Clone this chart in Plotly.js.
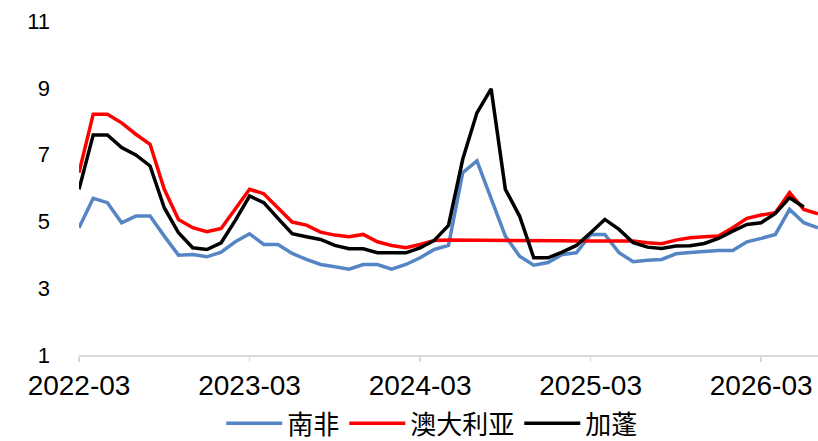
<!DOCTYPE html>
<html>
<head>
<meta charset="utf-8">
<script src="https://cdn.plot.ly/plotly-3.0.1.min.js"></script>
<style>html,body{margin:0;padding:0;background:#fff;}#chart{width:818px;height:441px;}</style>
</head>
<body>
<div id="chart"></div>
<script>
const months = [
  "2022-03","2022-04","2022-05","2022-06","2022-07","2022-08","2022-09","2022-10","2022-11","2022-12",
  "2023-01","2023-02","2023-03","2023-04","2023-05","2023-06","2023-07","2023-08","2023-09","2023-10","2023-11","2023-12",
  "2024-01","2024-02","2024-03","2024-04","2024-05","2024-06","2024-07","2024-08","2024-09","2024-10","2024-11","2024-12",
  "2025-01","2025-02","2025-03","2025-04","2025-05","2025-06","2025-07","2025-08","2025-09","2025-10","2025-11","2025-12",
  "2026-01","2026-02","2026-03","2026-04","2026-05","2026-06","2026-07"
];
const southAfrica = [
  4.81,5.69,5.56,4.96,5.16,5.16,4.56,3.99,4.01,3.94,
  4.08,4.39,4.63,4.31,4.31,4.04,3.86,3.71,3.64,3.57,3.71,3.71,
  3.57,3.71,3.91,4.16,4.28,6.46,6.81,5.66,4.56,3.96,3.69,3.77,
  4.01,4.06,4.61,4.61,4.06,3.79,3.84,3.86,4.03,4.07,4.11,4.13,
  4.13,4.39,4.49,4.61,5.36,4.96,4.81
];
const australia = [
  6.46,8.21,8.21,7.95,7.61,7.31,5.96,5.06,4.81,4.69,
  4.79,5.39,5.96,5.83,5.41,4.98,4.89,4.68,4.59,4.54,4.61,4.39,
  4.28,4.21,4.31,4.43,4.44,4.44,4.44,4.44,4.43,4.43,4.42,4.42,
  4.42,4.41,4.41,4.41,4.41,4.41,4.36,4.33,4.44,4.51,4.54,4.56,
  4.81,5.09,5.19,5.26,5.86,5.36,5.23
];
const gabon = [
  5.96,7.59,7.59,7.21,6.99,6.66,5.41,4.66,4.21,4.16,
  4.36,5.03,5.76,5.56,5.09,4.63,4.54,4.46,4.28,4.18,4.18,4.06,
  4.06,4.06,4.21,4.43,4.88,6.86,8.25,8.97,5.96,5.16,3.91,3.91,
  4.08,4.28,4.66,5.06,4.76,4.36,4.23,4.19,4.26,4.27,4.34,4.49,
  4.71,4.91,4.96,5.24,5.71,5.43,null
];
const seriesNames = ["南非","澳大利亚","加蓬"];
const xTicks = ["2022-03","2023-03","2024-03","2025-03","2026-03"];
const yTicks = [1,3,5,7,9,11];

const colors = ["#5585C5","#FF0000","#000000"];
const series = [southAfrica, australia, gabon];
const traces = series.map((s,i)=>({
  type:"scatter", mode:"lines", x:months, y:s, name:seriesNames[i],
  line:{color:colors[i], width:3.5}, connectgaps:false
}));

const layout = {
  width:818, height:441,
  margin:{l:79, r:0, t:21, b:86, autoexpand:false},
  paper_bgcolor:"#fff", plot_bgcolor:"#fff",
  showlegend:true,
  legend:{orientation:"h", x:0.478, xanchor:"center", y:-0.205, yanchor:"middle",
    font:{family:"Noto Sans CJK SC", size:26, color:"#000"}, itemwidth:56, tracegroupgap:0,
    bgcolor:"rgba(0,0,0,0)"},
  xaxis:{type:"category", range:[0,52], showgrid:false, zeroline:false, automargin:false,
    showline:true, linecolor:"#d9d9d9", linewidth:1.5,
    ticks:"outside", ticklen:5, tickcolor:"#d9d9d9", tickwidth:1.5,
    tickmode:"array", tickvals:xTicks, ticktext:xTicks,
    tickfont:{family:"Liberation Sans, Arial, sans-serif", size:28, color:"#000"}},
  yaxis:{range:[1,11], showgrid:false, zeroline:false, showline:false, automargin:false,
    tickmode:"array", tickvals:yTicks, ticks:"", ticklabelstandoff:28,
    tickfont:{family:"Liberation Sans, Arial, sans-serif", size:22, color:"#000"}}
};
Plotly.newPlot("chart", traces, layout, {displayModeBar:false, staticPlot:true});
</script>
</body>
</html>
